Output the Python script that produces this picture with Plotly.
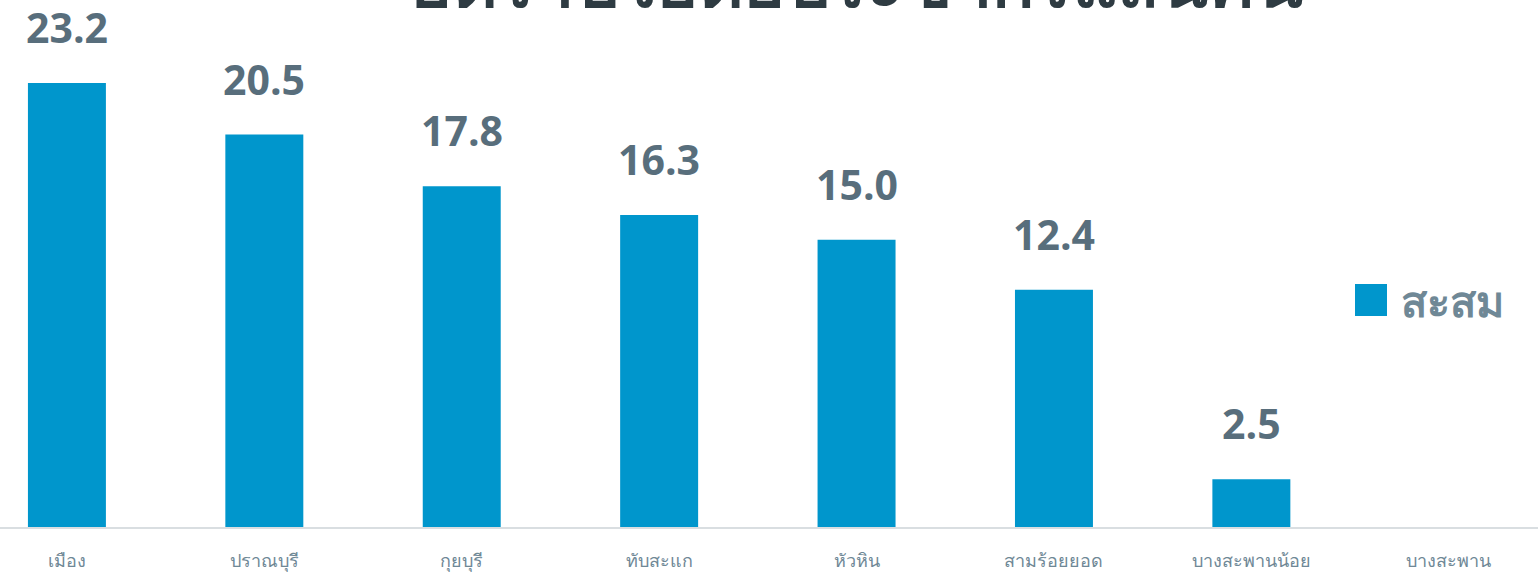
import plotly.graph_objects as go

districts = ["เมือง", "ปราณบุรี", "กุยบุรี", "ทับสะแก", "หัวหิน", "สามร้อยยอด", "บางสะพานน้อย", "บางสะพาน"]
values = [23.2, 20.5, 17.8, 16.3, 15.0, 12.4, 2.5, None]
value_labels = ["23.2", "20.5", "17.8", "16.3", "15.0", "12.4", "2.5", ""]
series_name = "สะสม"
title_text = "อัตราป่วยต่อประชากรแสนคน"

BAR_COLOR = "#0096CC"
LABEL_COLOR = "#586E7C"
TICK_COLOR = "#6F8896"
FONT = "Open Sans, Noto Sans, sans-serif"

fig = go.Figure()
fig.add_trace(go.Bar(
    x=districts, y=values, name=series_name,
    marker=dict(color=BAR_COLOR, line=dict(width=0)),
    width=0.395, showlegend=False, hoverinfo="x+y",
))

for d, v, t in zip(districts, values, value_labels):
    if v is None:
        continue
    fig.add_annotation(x=d, y=v, text=t, showarrow=False, yanchor="bottom",
                       yshift=26, font=dict(family=FONT, size=41, color=LABEL_COLOR, weight="bold"))

# cut-off title
fig.add_annotation(xref="paper", yref="paper", x=0.557, y=1.0, yanchor="bottom", yshift=-30,
                   text=title_text, showarrow=False,
                   font=dict(family=FONT, size=70, color="#2E3B42", weight="bold"))

# legend
fig.add_shape(type="rect", xref="paper", yref="paper", x0=1355/1538, x1=1387/1538,
              y0=(527-316)/527, y1=(527-284)/527, fillcolor=BAR_COLOR, line=dict(width=0))
fig.add_annotation(xref="paper", yref="paper", x=1399/1538, y=(527-300)/527, xanchor="left",
                   yanchor="middle", text=series_name, showarrow=False,
                   font=dict(family=FONT, size=43, color=TICK_COLOR, weight="bold"))

fig.update_layout(
    width=1538, height=576,
    margin=dict(l=0, r=0, t=0, b=49),
    plot_bgcolor="white", paper_bgcolor="white",
    font=dict(family=FONT),
    xaxis=dict(range=[-0.339, 7.452], showline=True, linecolor="#D9DEE1", linewidth=2,
               showgrid=False, ticks="", tickfont=dict(size=18, color=TICK_COLOR),
               ticklabelstandoff=16, fixedrange=True),
    yaxis=dict(range=[0, 27.53], visible=False, showgrid=False, zeroline=False),
)

fig.write_html("out.html", config={"displayModeBar": False},
               post_script="document.body.style.margin='0';document.body.style.overflow='hidden';")
